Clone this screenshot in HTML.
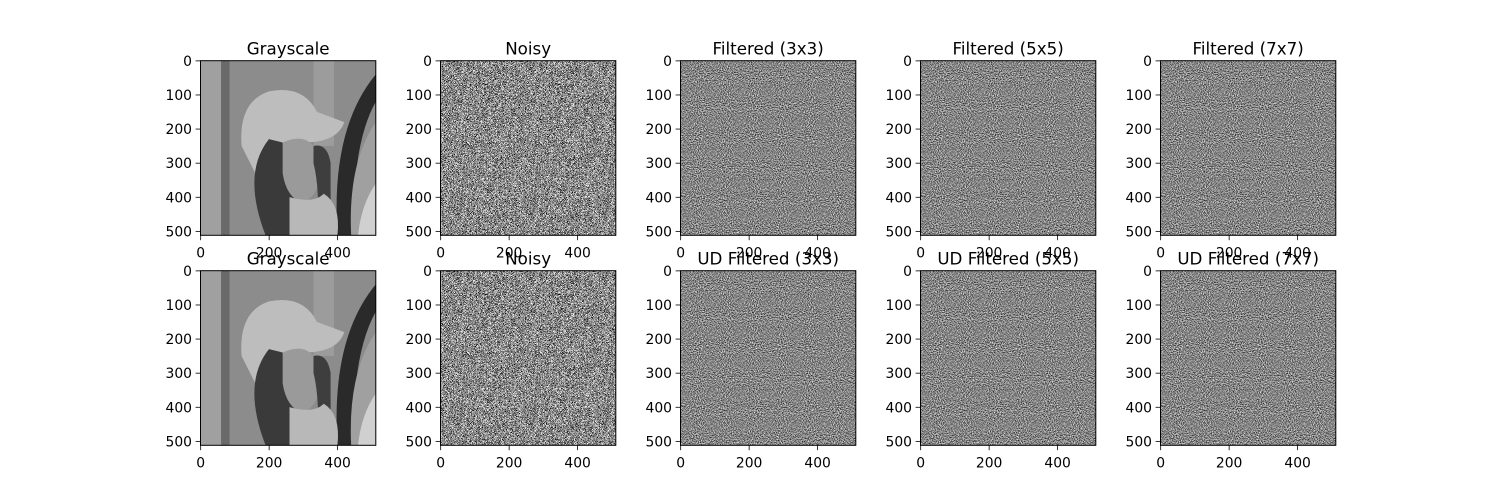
<!DOCTYPE html>
<html><head><meta charset="utf-8">
<style>
html,body{margin:0;padding:0;background:#fff;}
svg{display:block;font-family:"DejaVu Sans","Liberation Sans",sans-serif;}
</style></head>
<body>
<svg id="fig" width="1500" height="500" viewBox="0 0 1500 500">
<defs>
<filter id="noisy" x="0" y="0" width="100%" height="100%" filterUnits="objectBoundingBox" color-interpolation-filters="sRGB">
<feTurbulence type="fractalNoise" baseFrequency="1.2" numOctaves="1" seed="3" result="t"/>
<feColorMatrix in="t" type="matrix" values="4 0 0 0 -1.45  4 0 0 0 -1.45  4 0 0 0 -1.45  0 0 0 0 1"/>
</filter>
<filter id="filt" x="0" y="0" width="100%" height="100%" filterUnits="objectBoundingBox" color-interpolation-filters="sRGB">
<feTurbulence type="fractalNoise" baseFrequency="0.33" numOctaves="2" seed="7" result="t"/>
<feColorMatrix in="t" type="matrix" values="1.6 0 0 0 -0.28  1.6 0 0 0 -0.28  1.6 0 0 0 -0.28  0 0 0 0 1"/>
</filter>
<clipPath id="imgclip"><rect x="0" y="0" width="512" height="512"/></clipPath>
</defs>
</svg>
<script>
const titlesTop = ["Grayscale","Noisy","Filtered (3x3)","Filtered (5x5)","Filtered (7x7)"];
const titlesBottom = ["Grayscale","Noisy","UD Filtered (3x3)","UD Filtered (5x5)","UD Filtered (7x7)"];
const kinds = ["lena","noisy","filt","filt","filt"];
const xTicks = [0,200,400];
const yTicks = [0,100,200,300,400,500];
const imgSize = 512;

const NS = "http://www.w3.org/2000/svg";
const fig = document.getElementById('fig');
const AX_W = 175.3, AX_H = 174.6;
const colX = i => 200.5 + 240*i;
const rowY = [60.7, 270.7];

function el(tag, attrs, parent){
  const e = document.createElementNS(NS, tag);
  for (const k in attrs) e.setAttribute(k, attrs[k]);
  (parent||fig).appendChild(e);
  return e;
}

function lena(g){
  el('rect',{x:0,y:0,width:512,height:512,fill:'#8c8c8c'},g);
  el('rect',{x:0,y:0,width:60,height:512,fill:'#a0a0a0'},g);
  el('rect',{x:60,y:0,width:25,height:512,fill:'#6a6a6a'},g);
  el('rect',{x:330,y:0,width:60,height:250,fill:'#9c9c9c'},g);
  el('path',{d:'M400 512 Q380 200 512 40 L512 120 Q440 250 450 512 Z',fill:'#2a2a2a'},g);
  el('path',{d:'M440 512 Q430 300 512 180 L512 512 Z',fill:'#a0a0a0'},g);
  el('path',{d:'M460 512 Q470 420 512 360 L512 512 Z',fill:'#d0d0d0'},g);
  el('path',{d:'M120 250 Q110 120 200 90 Q300 70 340 150 L420 180 Q400 240 300 240 Q220 260 160 330 Z',fill:'#bdbdbd'},g);
  el('path',{d:'M200 230 Q120 330 190 512 L300 512 Q330 420 270 330 L240 240 Z',fill:'#3a3a3a'},g);
  el('path',{d:'M240 240 Q330 200 350 300 Q360 380 300 420 Q250 400 240 330 Z',fill:'#9a9a9a'},g);
  el('path',{d:'M330 250 Q370 240 380 300 L380 512 L340 512 Q350 380 330 300 Z',fill:'#3e3e3e'},g);
  el('path',{d:'M260 400 Q330 420 360 390 Q410 420 400 512 L260 512 Z',fill:'#b8b8b8'},g);
}

function axes(col,row){
  const x0 = colX(col), y0 = rowY[row];
  const title = row===0 ? titlesTop[col] : titlesBottom[col];
  const kind = kinds[col];
  const ax = el('g',{});
  
  
  const sx = AX_W/imgSize, sy = AX_H/imgSize;
  const img = el('g',{transform:`translate(${x0},${y0}) scale(${sx},${sy})`,'clip-path':'url(#imgclip)'},ax);
  
  
  if (kind==='lena') lena(img);
  else el('rect',{x:0,y:0,width:512,height:512,fill:'#888',filter:`url(#${kind})`},img);
  el('rect',{x:x0,y:y0,width:AX_W,height:AX_H,fill:'none',stroke:'#000','stroke-width':1},ax);
  const t = el('text',{x:x0+AX_W/2,y:y0-6,'text-anchor':'middle','font-size':16.7,fill:'#000'},ax);
  t.textContent = title;
  
  
  const xs = v => x0 + (v+0.5)*sx;
  const ys = v => y0 + (v+0.5)*sy;
  xTicks.forEach(v=>{
    const px = xs(v);
    el('line',{x1:px,x2:px,y1:y0+AX_H,y2:y0+AX_H+4.9,stroke:'#000','stroke-width':0.8},ax);
    const l = el('text',{x:px,y:y0+AX_H+22,'text-anchor':'middle','font-size':13.9,fill:'#000'},ax);
    l.textContent = v;
    
    
  });
  yTicks.forEach(v=>{
    const py = ys(v);
    el('line',{x1:x0-4.9,x2:x0,y1:py,y2:py,stroke:'#000','stroke-width':0.8},ax);
    const l = el('text',{x:x0-8.5,y:py+5,'text-anchor':'end','font-size':13.9,fill:'#000'},ax);
    l.textContent = v;
    
    
  });
}
for (let r=0;r<2;r++) for (let c=0;c<5;c++) axes(c,r);
</script>
</body></html>
